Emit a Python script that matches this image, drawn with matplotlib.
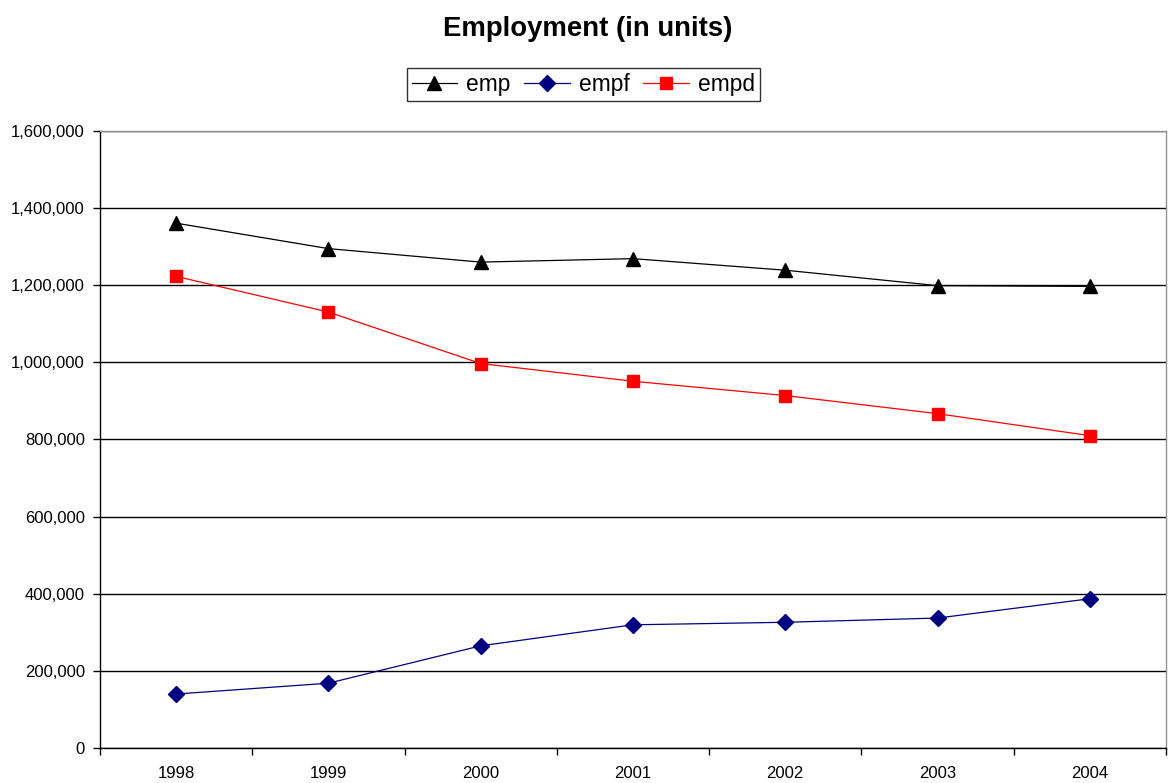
import matplotlib.pyplot as plt
import numpy as np
from matplotlib.ticker import FuncFormatter, FixedLocator

plt.rcParams['font.family'] = ['Liberation Sans', 'DejaVu Sans']

years = ['1998', '1999', '2000', '2001', '2002', '2003', '2004']
emp = [1361000, 1295000, 1260000, 1269000, 1239000, 1199000, 1197000]
empf = [140000, 168000, 265000, 319500, 326000, 337000, 387000]
empd = [1223000, 1130500, 997000, 951000, 914000, 867000, 810000]

fig = plt.figure(figsize=(11.7, 7.83), dpi=100)
ax = fig.add_axes([0.0855, 0.0447, 0.911, 0.788])

x = np.arange(len(years))
ax.plot(x, emp, color='black', lw=0.9, marker='^', ms=10, label='emp')
ax.plot(x, empf, color='#000080', lw=0.9, marker='D', ms=8.5, label='empf')
ax.plot(x, empd, color='#ff0000', lw=0.9, marker='s', ms=9, label='empd')

ax.set_xlim(-0.5, len(years) - 0.5)
ax.set_ylim(0, 1600000)
ax.set_yticks(np.arange(0, 1600001, 200000))
ax.yaxis.set_major_formatter(FuncFormatter(lambda v, p: f'{int(v):,}'))
ax.yaxis.grid(True, color='black', lw=1)
ax.set_axisbelow(True)

# category labels centred, tick marks on the boundaries between years
ax.set_xticks(x)
ax.set_xticklabels(years)
ax.xaxis.set_minor_locator(FixedLocator(np.arange(-0.5, len(years), 1.0)))
ax.tick_params(axis='x', which='major', length=0, pad=13, labelsize=12)
ax.tick_params(axis='x', which='minor', length=5, width=1, direction='out')
ax.tick_params(axis='y', length=5, width=1, labelsize=12, pad=6)

for s in ['left', 'bottom']:
    ax.spines[s].set_color('black')
    ax.spines[s].set_linewidth(1)
for s in ['top', 'right']:
    ax.spines[s].set_color('#909090')
    ax.spines[s].set_linewidth(1)

fig.text(0.502, 0.963, 'Employment (in units)', ha='center', va='center',
         fontsize=19.8, fontweight='bold')

leg = fig.legend(loc='center', bbox_to_anchor=(0.4985, 0.8925), ncol=3,
                 frameon=True, fancybox=False, edgecolor='black',
                 fontsize=16.4, handlelength=2.0, handletextpad=0.4,
                 columnspacing=0.6, borderpad=0.22)
leg.get_frame().set_linewidth(1)

fig.savefig('out.png', dpi=100)
